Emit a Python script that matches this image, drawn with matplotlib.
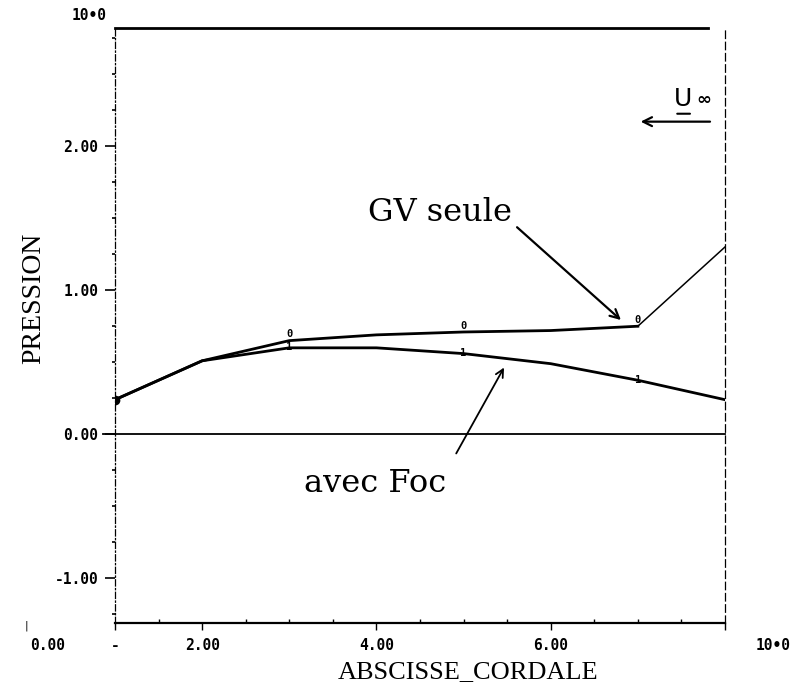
import matplotlib.pyplot as plt

# abscisse cordale et pressions
x = [1, 2, 3, 4, 5, 6, 7, 8]
gv_seule = [0.24, 0.51, 0.65, 0.69, 0.71, 0.72, 0.75, 1.30]
avec_foc = [0.24, 0.51, 0.60, 0.60, 0.56, 0.49, 0.375, 0.24]
# points repérés par les symboles "0" et "1"
idx_marques = [2, 4, 6]

yticks = [-1, 0, 1, 2]
ylabels = ['-1.00', '0.00', '1.00', '2.00']
xticks = [1, 2, 4, 6, 8]
xlabels = ['-', '2.00', '4.00', '6.00', '']

mono = dict(family='DejaVu Sans Mono', weight='bold', size=10.5)
serif = 'Liberation Serif'

fig = plt.figure(figsize=(7.92, 6.95), dpi=100)
ax = fig.add_axes([0.1452, 0.1036, 0.7702, 0.8561])
ax.set_xlim(1, 8)
ax.set_ylim(-1.31, 2.82)

# courbes
ax.plot(x[:-1], gv_seule[:-1], color='black', lw=2)
ax.plot(x[-2:], gv_seule[-2:], color='black', lw=1.1)
ax.plot(x, avec_foc, color='black', lw=2)
ax.plot(x[0], gv_seule[0], 'o', color='black', ms=6)
for i in idx_marques:
    ax.text(x[i], gv_seule[i] + 0.01, '0', ha='center', va='bottom',
            fontsize=7.5, family='DejaVu Sans Mono', weight='bold')
    ax.text(x[i], avec_foc[i] - 0.03, '1', ha='center', va='bottom',
            fontsize=7.5, family='DejaVu Sans Mono', weight='bold')

# ligne zero et cadre
ax.axhline(0, xmin=-0.02, xmax=1, color='black', lw=1.3, clip_on=False)
ax.axhline(2.82, xmin=0, xmax=0.972, color='black', lw=2, clip_on=False)
ax.spines['top'].set_visible(False)
ax.spines['left'].set_linestyle((0, (5, 2, 1, 2)))
ax.spines['left'].set_linewidth(0.9)
ax.spines['right'].set_linestyle((0, (6, 3)))
ax.spines['right'].set_linewidth(0.9)
ax.spines['bottom'].set_linewidth(1.6)

ax.set_yticks(yticks)
ax.set_yticklabels(ylabels, fontdict=mono)
ax.set_yticks([v / 4 for v in range(-5, 12)], minor=True)
ax.set_xticks(xticks)
ax.set_xticklabels(xlabels, fontdict=mono)
ax.set_xticks([v / 2 for v in range(2, 17)], minor=True)
ax.tick_params(axis='y', which='major', direction='out', length=7, width=1.2, pad=5)
ax.tick_params(axis='y', which='minor', direction='out', length=2.5, width=1.2)
ax.tick_params(axis='x', which='major', direction='out', length=5, width=1, pad=6)
ax.tick_params(axis='x', which='minor', direction='in', length=3, width=1)

ax.set_xlabel('ABSCISSE_CORDALE', family=serif, fontsize=19)
ax.xaxis.set_label_coords(0.579, -0.064)
ax.set_ylabel('PRESSION', family=serif, fontsize=20)
ax.yaxis.set_label_coords(-0.113, 0.545)

# textes et flèches
ax.text(4.73, 1.54, 'GV seule', family='DejaVu Serif', fontsize=23,
        ha='center', va='center')
ax.annotate('', xy=(6.83, 0.78), xytext=(5.59, 1.45),
            arrowprops=dict(arrowstyle='->', color='black', lw=1.6, mutation_scale=16))
ax.text(3.98, -0.34, 'avec Foc', family='DejaVu Serif', fontsize=23,
        ha='center', va='center')
ax.annotate('', xy=(5.48, 0.48), xytext=(4.90, -0.15),
            arrowprops=dict(arrowstyle='->', color='black', lw=1.3, mutation_scale=14))
ax.annotate('', xy=(7.0, 2.17), xytext=(7.86, 2.17),
            arrowprops=dict(arrowstyle='->', color='black', lw=1.6, mutation_scale=16))
ax.text(7.52, 2.245, 'U', family='DejaVu Sans', fontsize=18, ha='center', va='bottom')
ax.annotate('', xy=(7.42, 2.225), xytext=(7.63, 2.225),
            arrowprops=dict(arrowstyle='-', color='black', lw=1.5))
ax.text(7.76, 2.255, '∞', family='DejaVu Sans', fontsize=13, weight='bold',
        ha='center', va='bottom')

# étiquettes isolées du tracé d'origine
fig.text(72 / 792, 1 - 15 / 695, '10•0', ha='left', va='center', **mono)
fig.text(30 / 792, 1 - 645 / 695, '0.00', ha='left', va='center', **mono)
fig.text(25 / 792, 1 - 626 / 695, '|', ha='left', va='center', fontsize=8)
fig.text(756 / 792, 1 - 645 / 695, '10•0', ha='left', va='center', **mono)

fig.savefig('out.png', dpi=100)
